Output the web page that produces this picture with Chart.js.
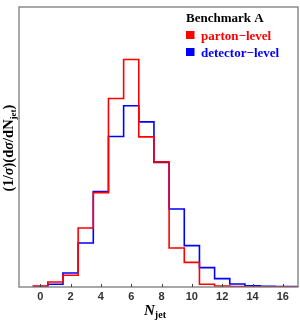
<!DOCTYPE html>
<html>
<head>
<meta charset="utf-8">
<script src="https://cdn.jsdelivr.net/npm/chart.js@4.4.1/dist/chart.umd.min.js"></script>
<style>
  html, body { margin: 0; padding: 0; background: #fff; }
  #wrap { width: 300px; height: 322px; }
</style>
</head>
<body>
<div id="wrap"><canvas id="njetChart" width="300" height="322"></canvas></div>
<script>
// ビン中心 (N_jet)
const nJet = [0, 1, 2, 3, 4, 5, 6, 7, 8, 9, 10, 11, 12, 13, 14, 15, 16];
// 規格化された分布
const partonLevel = [0.001, 0.0054, 0.0126, 0.0635, 0.1015, 0.2027, 0.2446, 0.1614, 0.1345, 0.042, 0.0265, 0.0029, 0.0011, 0.0004, 0, 0, 0];
const detectorLevel = [0.0004, 0.0029, 0.0151, 0.0473, 0.1026, 0.1618, 0.1948, 0.1775, 0.1338, 0.0839, 0.0445, 0.0208, 0.009, 0.0032, 0.0014, 0.0007, 0.0004];
// 目盛りラベル
const xTicks = [0, 2, 4, 6, 8, 10, 12, 14, 16];
const legendTitle = 'Benchmark A';
const seriesNames = ['parton\u2212level', 'detector\u2212level'];
const seriesColors = ['#ff0000', '#0000ff'];

const X_MIN = -1.4, X_MAX = 17, Y_MAX = 0.301;
const SERIF = '"Liberation Serif", "Times New Roman", serif';

// ヒストグラムを階段状の点列に変換 (各ビンの左端から右端まで水平線)
function toSteps(values) {
    const pts = nJet.map((n, i) => ({ x: n - 0.5, y: values[i] }));
    pts.push({ x: X_MAX, y: values[values.length - 1] });
    return pts;
}

// テキストを部分ごとに描く (下付き文字用)
function drawParts(ctx, parts, x, y, align) {
    let total = 0;
    parts.forEach(p => { ctx.font = p.f; p.w = ctx.measureText(p.t).width; total += p.w; });
    let cx = align === 'center' ? x - total / 2 : x;
    parts.forEach(p => {
        ctx.font = p.f;
        ctx.fillText(p.t, cx, y + (p.dy || 0));
        cx += p.w;
    });
}

const decorPlugin = {
    id: 'decor',
    afterDraw(chart) {
        const ctx = chart.ctx;
        const a = chart.chartArea;
        const xs = chart.scales.x;
        ctx.save();
        // 枠
        ctx.strokeStyle = '#7a7a7a';
        ctx.lineWidth = 1.3;
        ctx.strokeRect(a.left, a.top, a.right - a.left, a.bottom - a.top);
        // 内向きの目盛り
        ctx.strokeStyle = '#444';
        ctx.lineWidth = 1;
        xTicks.forEach(v => {
            const px = Math.round(xs.getPixelForValue(v)) + 0.5;
            ctx.beginPath();
            ctx.moveTo(px, a.bottom);
            ctx.lineTo(px, a.bottom - 3);
            ctx.stroke();
        });
        // 凡例
        ctx.textBaseline = 'alphabetic';
        ctx.textAlign = 'left';
        ctx.fillStyle = '#000';
        ctx.font = 'bold 13px ' + SERIF;
        ctx.fillText(legendTitle, 186, 22);
        seriesNames.forEach((name, i) => {
            const y = 40 + i * 17;
            ctx.fillStyle = seriesColors[i];
            ctx.fillRect(186, y - 9, 8.5, 8);
            ctx.font = 'bold 13px ' + SERIF;
            ctx.fillText(name, 201, y);
        });
        // x軸タイトル
        ctx.fillStyle = '#000';
        drawParts(ctx, [
            { t: 'N', f: 'italic bold 15px ' + SERIF },
            { t: 'jet', f: 'bold 10px ' + SERIF, dy: 3 }
        ], 155, 315, 'center');
        // y軸タイトル
        ctx.translate(13, 148);
        ctx.rotate(-Math.PI / 2);
        drawParts(ctx, [
            { t: '(1/', f: 'bold 14.5px ' + SERIF },
            { t: '\u03c3', f: 'italic bold 14.5px ' + SERIF },
            { t: ')(d', f: 'bold 14.5px ' + SERIF },
            { t: '\u03c3', f: 'italic bold 14.5px ' + SERIF },
            { t: '/dN', f: 'bold 14.5px ' + SERIF },
            { t: 'jet', f: 'bold 9px ' + SERIF, dy: 3 },
            { t: ')', f: 'bold 14.5px ' + SERIF }
        ], 0, 0, 'center');
        ctx.restore();
    }
};

const ctx = document.getElementById('njetChart').getContext('2d');
const chart = new Chart(ctx, {
    type: 'line',
    data: {
        datasets: [
            { label: seriesNames[0], data: toSteps(partonLevel), borderColor: seriesColors[0], borderWidth: 1.6, stepped: 'before', pointRadius: 0, fill: false },
            { label: seriesNames[1], data: toSteps(detectorLevel), borderColor: seriesColors[1], borderWidth: 1.6, stepped: 'before', pointRadius: 0, fill: false }
        ]
    },
    options: {
        responsive: false,
        animation: false,
        layout: { padding: { top: 7, right: 2, left: 0, bottom: 0 } },
        plugins: { legend: { display: false }, tooltip: { enabled: false } },
        scales: {
            x: {
                type: 'linear',
                min: X_MIN,
                max: X_MAX,
                afterBuildTicks: s => { s.ticks = xTicks.map(v => ({ value: v })); },
                afterFit: s => { s.height = 35; },
                grid: { display: false, drawTicks: false },
                border: { display: false },
                ticks: { padding: 3, color: '#333', font: { family: 'Liberation Sans, Arial, sans-serif', weight: 'bold', size: 11 } }
            },
            y: {
                min: 0,
                max: Y_MAX,
                afterFit: s => { s.width = 19; },
                grid: { display: false },
                border: { display: false },
                ticks: { display: false }
            }
        }
    },
    plugins: [decorPlugin]
});
</script>
</body>
</html>
